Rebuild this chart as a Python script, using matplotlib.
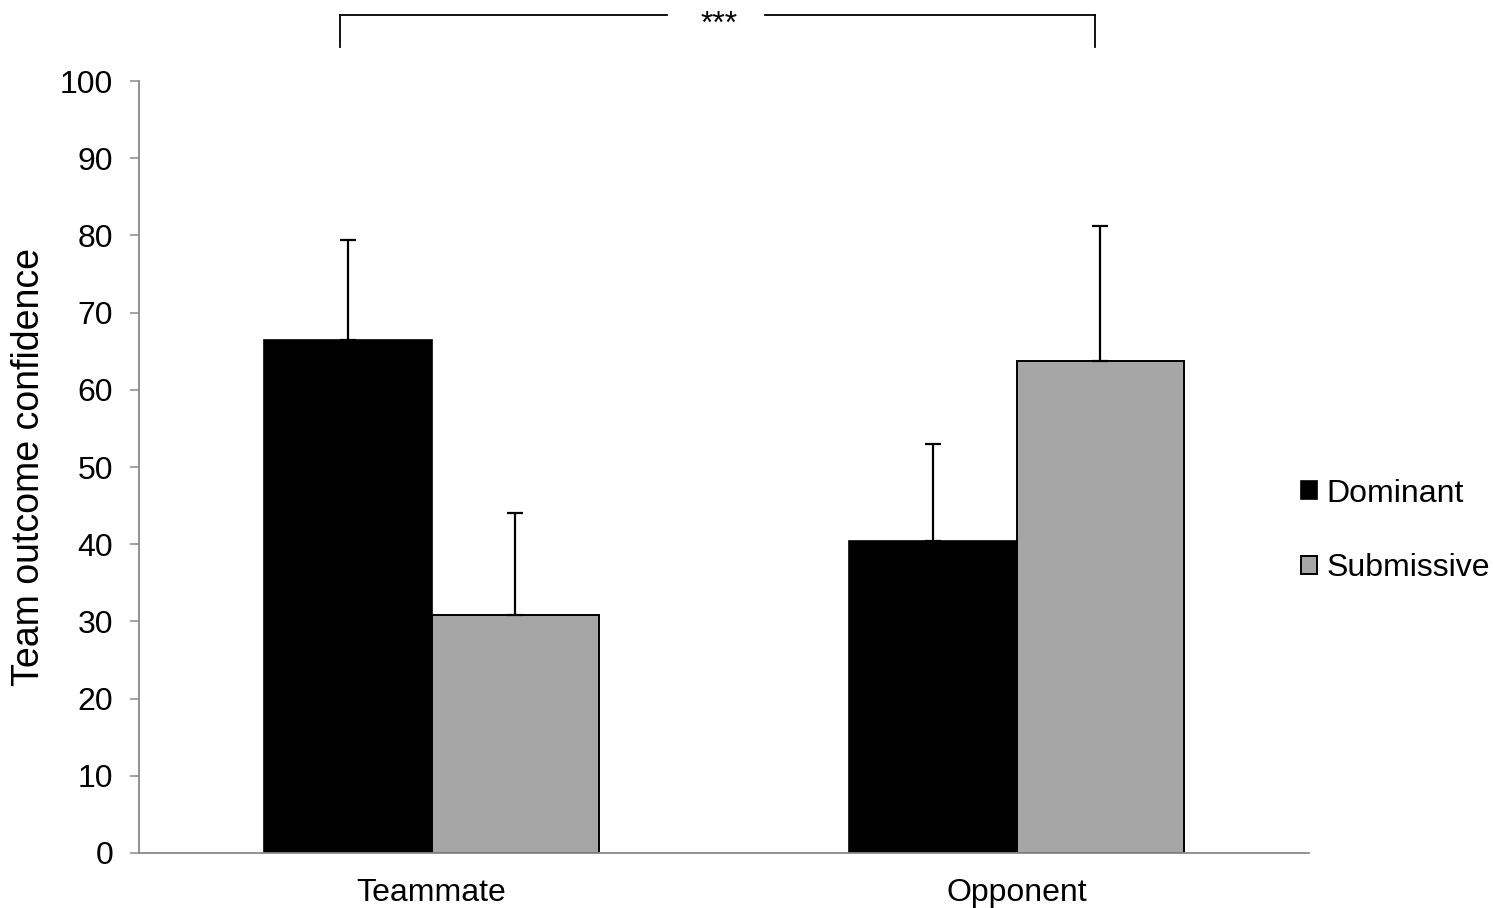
import matplotlib
matplotlib.use("Agg")
import matplotlib.pyplot as plt
import numpy as np

categories = ["Teammate", "Opponent"]
series_names = ["Dominant", "Submissive"]
dominant = [66.4, 40.4]
submissive = [30.8, 63.7]
dominant_err = [13.0, 12.6]
submissive_err = [13.2, 17.5]
yticks = [0, 10, 20, 30, 40, 50, 60, 70, 80, 90, 100]
sig_label = "***"

plt.rcParams['font.family'] = ['Liberation Sans', 'DejaVu Sans']

W, H = 1493, 908
fig = plt.figure(figsize=(W / 100, H / 100), dpi=100)
ax = fig.add_axes([139 / W, 1 - 853 / H, (1309 - 139) / W, (853 - 81) / H])

x = np.arange(len(categories))
bw = 0.2855
dark = "#000000"
grey = "#A6A6A6"
ekw = dict(ecolor="black", elinewidth=1.6, capsize=6, capthick=1.6)

ax.bar(x - bw / 2, dominant, bw, color=dark, edgecolor=dark, linewidth=1.2,
       yerr=[np.zeros(len(x)), dominant_err], error_kw=ekw, label=series_names[0], zorder=2)
ax.bar(x + bw / 2, submissive, bw, color=grey, edgecolor="black", linewidth=1.4,
       yerr=[np.zeros(len(x)), submissive_err], error_kw=ekw, label=series_names[1], zorder=2)

ax.set_xlim(-0.5, 1.5)
ax.set_ylim(0, 100)
ax.set_yticks(yticks)
ax.set_xticks(x)
ax.set_xticklabels(categories, fontsize=23)
ax.tick_params(axis='y', labelsize=23, length=6.5, width=1.1, color="#898989", pad=12)
ax.tick_params(axis='x', length=0, pad=18)

for s in ["top", "right"]:
    ax.spines[s].set_visible(False)
for s in ["left", "bottom"]:
    ax.spines[s].set_color("#898989")
    ax.spines[s].set_linewidth(1.3)

ax.set_ylabel("Team outcome confidence", fontsize=27, labelpad=9.5)

def fx(px):
    return px / W
def fy(py):
    return 1 - py / H

lw = 1.3
fig.add_artist(plt.Line2D([fx(340), fx(667)], [fy(15), fy(15)], color="black", lw=lw))
fig.add_artist(plt.Line2D([fx(765), fx(1095)], [fy(15), fy(15)], color="black", lw=lw))
fig.add_artist(plt.Line2D([fx(340), fx(340)], [fy(15), fy(47)], color="black", lw=lw))
fig.add_artist(plt.Line2D([fx(1095), fx(1095)], [fy(15), fy(47)], color="black", lw=lw))
fig.text(fx(719), fy(33), sig_label, ha="center", va="baseline", fontsize=23)

leg = ax.legend(loc="center left", bbox_to_anchor=(1301 / W, 1 - 531 / H),
                bbox_transform=fig.transFigure, frameon=False, fontsize=23,
                handlelength=0.5, handleheight=0.5, handletextpad=0.3,
                labelspacing=1.4, borderaxespad=0, borderpad=0)

fig.savefig("out.png", dpi=100)
